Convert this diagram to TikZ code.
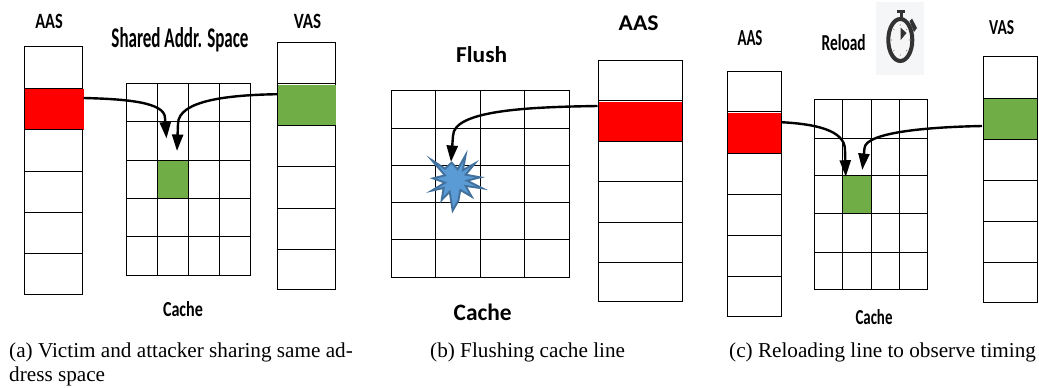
\documentclass[tikz,border=0pt]{standalone}
\usepackage{fontspec}
\usepackage{graphicx}
\setmainfont{Liberation Serif}
\newfontfamily\lblfont[BoldFont=Carlito Bold]{Carlito}
\usetikzlibrary{arrows.meta,calc}
\definecolor{cellgreen}{RGB}{112,173,71}
\definecolor{burstfill}{RGB}{91,155,213}
\definecolor{burstline}{RGB}{65,113,156}
\definecolor{watchdark}{RGB}{50,50,50}
\definecolor{watchbg}{RGB}{245,246,248}
\newcommand{\lbl}[3]{\resizebox{#1pt}{#2pt}{\lblfont\bfseries #3}}
\newcommand{\stackcells}[4]{%
  \foreach \ya/\yb [count=\ci] in {#4}{%
    \node[cellbox,minimum width={(#3-#2)*1pt},minimum height={(\yb-\ya)*1pt}]
      (#1\ci) at ({(#2+#3)/2},{(\ya+\yb)/2}) {};
  }}
\newcommand{\gridcells}[5]{%
  \node[cellbox,minimum width={(#3-#2)*1pt},minimum height={(#5-#4)*1pt}]
    (#1) at ({(#2+#3)/2},{(#4+#5)/2}) {};}
\tikzset{
  x=1pt,y=-1pt,
  cellbox/.style={draw=black,line width=0.9pt,inner sep=0pt,outer sep=0pt,shape=rectangle},
  hotgreen/.style={cellbox,fill=cellgreen},
  capt/.style={anchor=base west,inner sep=0pt,font=\fontsize{21.2}{24}\selectfont},
  lab/.style={inner sep=0pt,anchor=center},
  flow/.style={line width=2.4pt,-{Triangle[width=11pt,length=16.5pt]}},
}
\begin{document}
\begin{tikzpicture}
\useasboundingbox (0,0) rectangle (1039,388);
% ---------- (a)
\stackcells{aa}{24.5}{82.5}{46.5/88.5,88.5/129.5,129.5/171.5,171.5/212,212/253,253/294.5}
\stackcells{av}{277.5}{335.5}{42.5/83.5,83.5/125.5,125.5/166,166/208.5,208.5/249.5,249.5/289}
\foreach \xa/\xb [count=\i] in {126.5/157.5,157.5/188.5,188.5/219.5,219.5/250.5}
  \foreach \ya/\yb [count=\j] in {83.5/121.5,121.5/160.5,160.5/198.5,198.5/236.5,236.5/275.5}
    \gridcells{ac\i x\j}{\xa}{\xb}{\ya}{\yb};
\node[cellbox,fill=red,draw=none,minimum width=59pt,minimum height=41pt] (ared) at (54,109) {};
\draw[line width=0.9pt] (24.5,88.5) -- (82.5,88.5) (24.5,129.5) -- (82.5,129.5) (24.5,88.5) -- (24.5,129.5);
\node[cellbox,fill=cellgreen,draw=none,minimum width=58pt,minimum height=40pt] (agreen) at (306.5,105.2) {};
\draw[line width=0.9pt] (277.5,125.5) -- (335.5,125.5);
\node[hotgreen,minimum width=31pt,minimum height=38pt] (acg) at (173,179.5) {};
\coordinate (at1) at (166.5,138.5);
\coordinate (at2) at (177,151);
\draw[flow] ([yshift=11pt]ared.east) .. controls (125,99) and (165,102) .. (165,118) -- (at1);
\draw[flow] ([yshift=11pt]agreen.west) .. controls (230,95) and (178,100) .. (178,124) -- (at2);
\node[lab] (aaas) at (49,21) {\lbl{27.5}{14.3}{AAS}};
\node[lab] (ashared) at (180,40) {\lbl{137}{20}{Shared Addr. Space}};
\node[lab] (avas) at (307.5,21) {\lbl{27.5}{14.3}{VAS}};
\node[lab] (acache) at (183,309) {\lbl{40}{15}{Cache}};
\node[capt] (acap1) at (9,357) {(a) Victim and attacker sharing same ad-};
\node[capt] (acap2) at (9,381.7) {dress space};
% ---------- (b)
\foreach \xa/\xb [count=\i] in {391.5/435.5,435.5/480.5,480.5/524.5,524.5/569.5}
  \foreach \ya/\yb [count=\j] in {90.5/128.5,128.5/165.5,165.5/202.5,202.5/239.5,239.5/277.5}
    \gridcells{bc\i x\j}{\xa}{\xb}{\ya}{\yb};
\stackcells{bs}{598.5}{682.5}{60.5/100.5,100.5/141.5,141.5/181.5,181.5/222.5,222.5/262.5,262.5/301.5}
\node[cellbox,fill=red,draw=none,minimum width=83pt,minimum height=39.5pt] (bred) at (640.5,121.7) {};
\draw[line width=0.9pt] (598.5,141.5) -- (682.5,141.5);
% burst
\begin{scope}[shift={(425,150)},x=0.3333pt,y=-0.3333pt]
\draw[fill=burstfill,draw=burstline,line width=1.9pt,line join=miter,miter limit=12]
  (20,30) -- (60,56) -- (80,38) -- (98,58) -- (122,15) -- (114,60) -- (150,40) -- (122,74)
  -- (166,82) -- (126,92) -- (172,115) -- (122,108) -- (140,140) -- (106,120) -- (100,152)
  -- (83,182) -- (74,125) -- (50,150) -- (56,114) -- (20,122) -- (60,98) -- (24,85) -- (60,76) -- cycle;
\end{scope}
\coordinate (bt) at (451,162);
\draw[flow] ([xshift=-1.5pt,yshift=15.7pt]bred.west) .. controls (530,107) and (453,110) .. (453,136) -- (bt);
\node[lab] (baas) at (638.7,23) {\lbl{40}{14.7}{AAS}};
\node[lab] (bflush) at (481.7,55) {\lbl{51}{16}{Flush}};
\node[lab] (bcache) at (482.7,312.5) {\lbl{58}{16.5}{Cache}};
\node[capt] (bcap) at (430,357) {(b) Flushing cache line};
% ---------- (c)
\node[fill=watchbg,minimum width=48pt,minimum height=73pt,inner sep=0pt] (wbg) at (900,38.5) {};
\stackcells{ca}{727.5}{781.5}{71.5/111.5,111.5/153.5,153.5/194.5,194.5/235.5,235.5/276.5,276.5/316.5}
\stackcells{cv}{983.5}{1037.5}{56.5/98.5,98.5/139.5,139.5/180.5,180.5/221.5,221.5/262.5,262.5/302.5}
\foreach \xa/\xb [count=\i] in {814.5/842.5,842.5/871.5,871.5/899.5,899.5/927.5}
  \foreach \ya/\yb [count=\j] in {99.5/138.5,138.5/175.5,175.5/213.5,213.5/252.5,252.5/289.5}
    \gridcells{cc\i x\j}{\xa}{\xb}{\ya}{\yb};
\node[cellbox,fill=red,draw=none,minimum width=53.5pt,minimum height=40pt] (cred) at (754.5,133.2) {};
\draw[line width=0.9pt] (727.5,153.5) -- (781.5,153.5) (727.5,113) -- (727.5,153.5) (781.5,113) -- (781.5,153.5);
\node[hotgreen,minimum width=54pt,minimum height=41pt] (cgreen) at (1010.5,119) {};
\node[hotgreen,minimum width=29pt,minimum height=38pt] (ccg) at (857,194.5) {};
\coordinate (ct1) at (845.7,176.7);
\coordinate (ct2) at (862.3,170);
\draw[flow] ([yshift=11pt]cred.east) .. controls (815,124) and (845,130) .. (845,150) -- (ct1);
\draw[flow] ([xshift=-1.5pt,yshift=-7pt]cgreen.west) .. controls (930,127) and (866,132) .. (864.5,148) -- (ct2);
\node[lab] (caas) at (750,38) {\lbl{25}{15}{AAS}};
\node[lab] (creload) at (843.7,43) {\lbl{44}{16}{Reload}};
\node[lab] (cvas) at (1001.7,28) {\lbl{25}{14}{VAS}};
\node[lab] (ccache) at (874,317) {\lbl{37}{15}{Cache}};
\node[capt] (ccap) at (729,357) {(c) Reloading line to observe timing};
% stopwatch
\fill[watchdark] (897,9.5) rectangle (905,12.5);
\fill[watchdark] (899.5,12) rectangle (902.5,19);
\fill[watchdark] (909.5,21) -- (912,18.5) -- (917,28) -- (914,32) -- cycle;
\draw[watchdark,line width=4pt,fill=white!96!black] (900.3,40) ellipse [x radius=12,y radius=21];
\fill[watchdark] (900.7,40) -- (900.7,27.7) -- (906.5,33) -- cycle;
\foreach \a in {0,45,...,315}
  \fill[gray] ($(900.3,40)+(\a:9 and 15)$) circle (0.6);
\end{tikzpicture}
\end{document}
